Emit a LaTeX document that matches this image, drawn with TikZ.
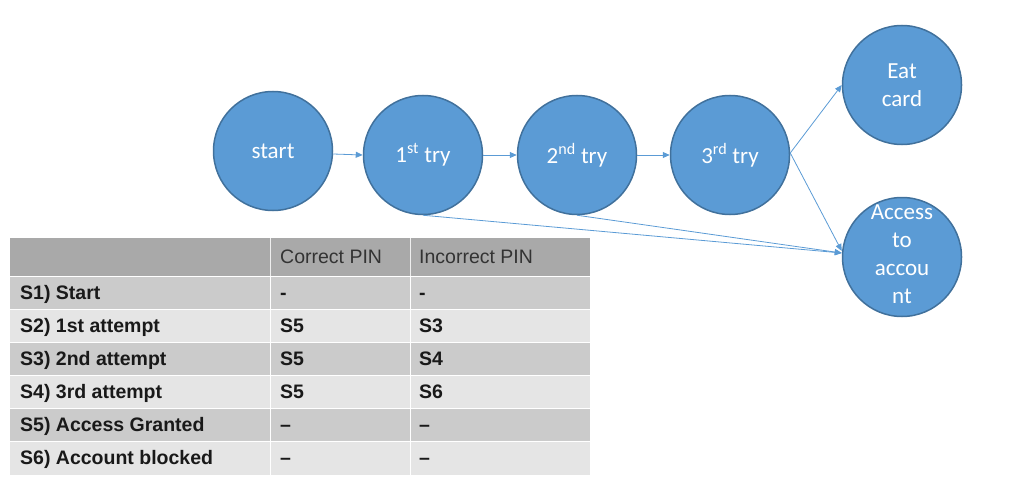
\documentclass[tikz,border=0pt]{standalone}
\usepackage{fontspec}
\setmainfont{Liberation Sans}
\newfontfamily\calib{Carlito}
\usetikzlibrary{arrows.meta}
\definecolor{cfill}{HTML}{5B9BD5}
\definecolor{cedge}{HTML}{41719C}
\definecolor{cline}{HTML}{5B9BD5}
\definecolor{hdr}{HTML}{A9A9A9}
\definecolor{rowa}{HTML}{CBCBCB}
\definecolor{rowb}{HTML}{E5E5E5}
\begin{document}
\begin{tikzpicture}[x=1pt,y=-1pt,
 state/.style={circle,fill=cfill,draw=cedge,line width=1.5pt,minimum size=119pt,inner sep=0pt,text=white,font=\calib\fontsize{23}{28}\selectfont,align=center},
 link/.style={draw=cline,line width=0.8pt,-{Triangle[length=7pt,width=6pt]}},
 cell/.style={anchor=base west,inner sep=0pt,font=\fontsize{19.5}{22}\selectfont\bfseries,text=black!90},
 hcell/.style={anchor=base west,inner sep=0pt,font=\fontsize{19.5}{22}\selectfont,text=black!80}]
\useasboundingbox (0,0) rectangle (1024,484);
% circles
\node[state] (start) at (273,151) {start};
\node[state] (t1) at (423,155) {1\textsuperscript{st} try};
\node[state] (t2) at (577,155) {2\textsuperscript{nd} try};
\node[state] (t3) at (730,155) {3\textsuperscript{rd} try};
\node[state] (eat) at (902,85) {Eat\\card};
\node[state] (acc) at (902,257) {\raisebox{-5pt}[0pt][0pt]{\makebox[0pt]{\begin{tabular}{@{}c@{}}Access\\to\\accou\\nt\end{tabular}}}};
% connectors
\draw[link] ([yshift=-3pt]start.east) -- (t1.west);
\draw[link] (t1.east) -- (t2.west);
\draw[link] (t2.east) -- (t3.west);
\draw[link] ([yshift=2pt]t3.east) -- (eat.west);
\draw[link] ([yshift=2pt]t3.east) -- ([yshift=6pt]acc.west);
\draw[link] (t1.south) -- ([yshift=4pt]acc.west);
\draw[link] (t2.south) -- ([yshift=4pt]acc.west);
% table
\fill[hdr] (10,238) rectangle (590,276);
\fill[rowa] (10,276) rectangle (590,309);
\fill[rowb] (10,309) rectangle (590,342);
\fill[rowa] (10,342) rectangle (590,375);
\fill[rowb] (10,375) rectangle (590,408);
\fill[rowa] (10,408) rectangle (590,441);
\fill[rowb] (10,441) rectangle (590,475);
\foreach \yy in {276,309,342,375,408,441} \draw[white,line width=1pt] (10,\yy) -- (590,\yy);
\draw[white!80!hdr,line width=0.8pt] (270,238) -- (270,276);
\draw[white!80!hdr,line width=0.8pt] (410,238) -- (410,276);
\draw[white,line width=0.8pt] (270,276) -- (270,475);
\draw[white,line width=0.8pt] (410,276) -- (410,475);
\node[hcell] (h2) at (280,263) {Correct PIN};
\node[hcell] (h3) at (419,263) {Incorrect PIN};
\node[cell] (a1) at (20,299) {S1) Start};
\node[cell] (a2) at (280,299) {-};
\node[cell] (a3) at (419,299) {-};
\node[cell] (b1) at (20,332) {S2) 1st attempt};
\node[cell] (b2) at (280,332) {S5};
\node[cell] (b3) at (419,332) {S3};
\node[cell] (c1) at (20,365) {S3) 2nd attempt};
\node[cell] (c2) at (280,365) {S5};
\node[cell] (c3) at (419,365) {S4};
\node[cell] (d1) at (20,398) {S4) 3rd attempt};
\node[cell] (d2) at (280,398) {S5};
\node[cell] (d3) at (419,398) {S6};
\node[cell] (e1) at (20,431) {S5) Access Granted};
\node[cell] (e2) at (280,431) {–};
\node[cell] (e3) at (419,431) {–};
\node[cell] (f1) at (20,464) {S6) Account blocked};
\node[cell] (f2) at (280,464) {–};
\node[cell] (f3) at (419,464) {–};
\end{tikzpicture}
\end{document}
